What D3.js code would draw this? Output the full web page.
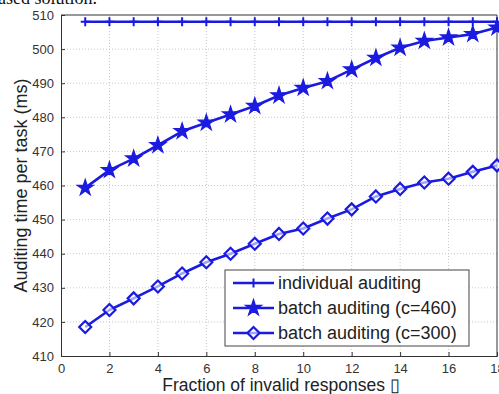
<!DOCTYPE html>
<html>
<head>
<meta charset="utf-8">
<script src="https://cdn.jsdelivr.net/npm/d3@7"></script>
<style>
  html, body { margin: 0; padding: 0; background: #fff; }
  svg { display: block; }
</style>
</head>
<body>
<svg id="chart" width="499" height="394"></svg>
<script>
// data
const xs = [1, 2, 3, 4, 5, 6, 7, 8, 9, 10, 11, 12, 13, 14, 15, 16, 17, 18];
const individual = [508, 508, 508, 508, 508, 508, 508, 508, 508, 508, 508, 508, 508, 508, 508, 508, 508, 508];
const batch460 = [459.3, 464.5, 467.9, 471.8, 475.9, 478.4, 480.8, 483.3, 486.4, 488.6, 490.6, 494.0, 497.4, 500.4, 502.4, 503.4, 504.4, 506.3];
const batch300 = [418.5, 423.5, 426.9, 430.4, 434.2, 437.5, 440.0, 442.9, 445.8, 447.4, 450.3, 453.0, 456.8, 459.0, 460.9, 462.0, 464.0, 465.9];
const xTicks = [0, 2, 4, 6, 8, 10, 12, 14, 16, 18];
const yTicks = [410, 420, 430, 440, 450, 460, 470, 480, 490, 500, 510];
const seriesNames = ["individual auditing", "batch auditing (c=460)", "batch auditing (c=300)"];

const blue = "#1b1be0";
const svg = d3.select("#chart");
const margin = { left: 61, right: 2, top: 15, bottom: 38 };
const W = 499, H = 394;

const x = d3.scaleLinear().domain([0, 18]).range([margin.left, W - margin.right]);
const y = d3.scaleLinear().domain([410, 510]).range([H - margin.bottom, margin.top]);

// caption fragment from the page above
svg.append("text")
  .attr("x", -2).attr("y", 4)
  .attr("font-family", "'Liberation Serif', 'Times New Roman', serif")
  .attr("font-size", 18).attr("fill", "#111")
  .text("ased solution.");

// grid
const grid = svg.append("g");
xTicks.slice(1, -1).forEach(t => {
  grid.append("line")
    .attr("x1", x(t)).attr("x2", x(t))
    .attr("y1", y(410)).attr("y2", y(510))
    .attr("stroke", "#c8c8c8").attr("stroke-dasharray", "1,2");
});
yTicks.slice(1, -1).forEach(t => {
  grid.append("line")
    .attr("x1", x(0)).attr("x2", x(18))
    .attr("y1", y(t)).attr("y2", y(t))
    .attr("stroke", "#c8c8c8").attr("stroke-dasharray", "1,2");
});

// axes
const xAxis = d3.axisBottom(x).tickValues(xTicks).tickSize(-4).tickPadding(8);
const yAxis = d3.axisLeft(y).tickValues(yTicks).tickSize(-4).tickPadding(7);

const gx = svg.append("g").attr("transform", `translate(0,${y(410)})`).call(xAxis);
const gy = svg.append("g").attr("transform", `translate(${x(0)},0)`).call(yAxis);
[gx, gy].forEach(g => {
  g.select(".domain").attr("stroke", "#333");
  g.selectAll(".tick line").attr("stroke", "#333");
  g.selectAll(".tick text")
    .attr("font-family", "'Liberation Sans', Arial, sans-serif")
    .attr("font-size", 13).attr("fill", "#333");
});

// box top and right
svg.append("line").attr("x1", x(0)).attr("x2", x(18)).attr("y1", y(510)).attr("y2", y(510)).attr("stroke", "#333");
svg.append("line").attr("x1", x(18)).attr("x2", x(18)).attr("y1", y(410)).attr("y2", y(510)).attr("stroke", "#333");

// axis labels
svg.append("text")
  .attr("x", 281).attr("y", 391)
  .attr("text-anchor", "middle")
  .attr("font-family", "'Liberation Sans', Arial, sans-serif")
  .attr("font-size", 17.5).attr("fill", "#222")
  .text("Fraction of invalid responses \u25AF");

svg.append("text")
  .attr("transform", `translate(27,${(y(410) + y(510)) / 2}) rotate(-90)`)
  .attr("text-anchor", "middle")
  .attr("font-family", "'Liberation Sans', Arial, sans-serif")
  .attr("font-size", 18).attr("fill", "#222")
  .text("Auditing time per task (ms)");

// markers
const diamondPath = r => `M0,${-r}L${r},0L0,${r}L${-r},0Z`;
const plusPath = r => `M0,${-r}V${r}M${-r},0H${r}`;
const starPath = d3.symbol().type(d3.symbolStar).size(80)();

function drawMarker(g, kind) {
  if (kind === "plus") {
    g.append("path").attr("d", plusPath(4.5)).attr("fill", "none")
      .attr("stroke", blue).attr("stroke-width", 2);
  } else if (kind === "star") {
    g.append("path").attr("d", starPath).attr("fill", blue)
      .attr("stroke", blue).attr("stroke-width", 1.2);
  } else {
    g.append("path").attr("d", diamondPath(6)).attr("fill", "#fff")
      .attr("fill-opacity", 0.6)
      .attr("stroke", blue).attr("stroke-width", 2.2);
  }
}

const series = [
  { values: individual, marker: "plus" },
  { values: batch460, marker: "star" },
  { values: batch300, marker: "diamond" }
];

const line = d3.line().x(d => x(d[0])).y(d => y(d[1]));

series.forEach(s => {
  const pts = xs.map((v, i) => [v, s.values[i]]);
  svg.append("path")
    .datum(pts)
    .attr("d", line)
    .attr("fill", "none")
    .attr("stroke", blue)
    .attr("stroke-width", 2.6)
    .attr("stroke-linejoin", "round");
  svg.append("g").selectAll("g")
    .data(pts).join("g")
    .attr("transform", d => `translate(${x(d[0])},${y(d[1])})`)
    .each(function () { drawMarker(d3.select(this), s.marker); });
});

// legend
const lg = svg.append("g").attr("transform", "translate(225,270)");
lg.append("rect")
  .attr("x", 0).attr("y", 0).attr("width", 244).attr("height", 76)
  .attr("fill", "#fff").attr("stroke", "#444").attr("stroke-width", 1);
seriesNames.forEach((name, i) => {
  const yy = 13 + i * 25;
  lg.append("line")
    .attr("x1", 8).attr("x2", 49).attr("y1", yy).attr("y2", yy)
    .attr("stroke", blue).attr("stroke-width", 2.6);
  const m = lg.append("g").attr("transform", `translate(28.5,${yy})`);
  drawMarker(m, series[i].marker);
  lg.append("text")
    .attr("x", 53).attr("y", yy + 6)
    .attr("font-family", "'Liberation Sans', Arial, sans-serif")
    .attr("font-size", 18).attr("fill", "#222")
    .text(name);
});
</script>
</body>
</html>
